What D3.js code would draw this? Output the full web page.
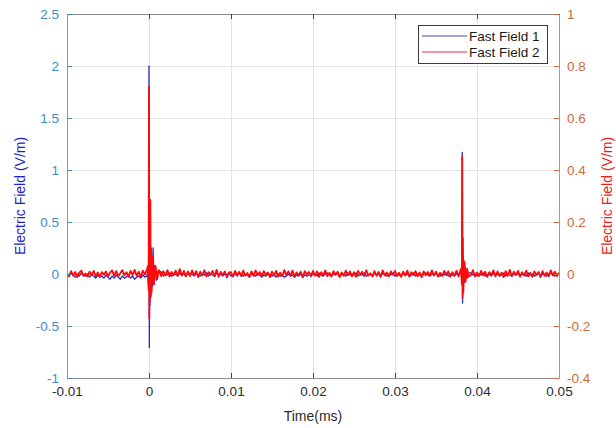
<!DOCTYPE html>
<html>
<head>
<meta charset="utf-8">
<script src="https://cdn.jsdelivr.net/npm/d3@7"></script>
<style>
  html, body { margin: 0; padding: 0; background: #fff; }
  svg { display: block; font-family: "Liberation Sans", Arial, Helvetica, sans-serif; }
</style>
</head>
<body>
<svg id="chart" width="616" height="428"></svg>
<script>
// Sampling grid for the quiet part of both records (ms)
const tStart = -0.01;
const tStep = 0.00025;

// Fast Field 2 baseline, right axis, in thousandths of V/m
const field2Base = [
  4,-9,11,-6,8,-12,5,13,-7,2,-10,9,-4,12,-8,6,-11,7,-3,10,
  -9,5,14,-6,11,-8,3,15,-5,7,-10,12,-4,16,-7,9,-11,13,-2,18,
  -6,10,-9,14,-3,17,-8,11,-5,15,-10,8,-4,13,-7,19,-6,12,-9,10,
  -8,14,-5,11,-12,9,-6,15,-10,7,-3,12,-9,16,-11,8,-4,10,-13,6,
  7,-10,12,-5,9,-8,13,-6,4,-11,10,-7,14,-4,8,-9,11,-3,6,-12,
  9,-6,12,-10,5,-8,15,-4,10,-7,13,-11,6,-5,9,-13,11,-2,8,-9,
  12,-6,10,-11,7,-4,14,-8,5,-10,11,-3,9,-12,6,-7,13,-5,10,-9,
  7,-11,12,-4,9,-8,15,-6,3,-10,11,-7,8,-12,14,-5,6,-9,10,-3,
  12,-8,5,-11,9,-6,13,-10,7,-4,11,-9,6,-12,10,-5,8,-7,14,-6,
  9,-10,5,-8,12,-4,10,-11,7,-6,13,-9,4,-12,11,-7,8,-5,15,-10,
  6,-8,12,-5,9,-11,7,-3,14,-9,10,-6,5,-12,11,-7,16,-8,9,-4,
  12,-10,7,-6,13,-9,5,-11,10,-4,8,-12,11,-7,6,-9,14,-5,9,-8,
  5
];

// Fast Field 1 baseline, left axis, in hundredths of V/m
const field1Base = [
  0,-2,1,-1,-3,0,-2,1,-1,-2,0,-3,-1,-2,-4,-1,-3,-2,-4,-1,
  -3,-5,-2,-4,-1,-3,-5,-2,-4,-3,-1,-4,-2,-5,-3,-2,-4,-1,-3,-2,
  0,-1,1,-2,0,-1,2,-2,0,-1,1,-2,-1,0,-2,1,-1,0,-2,1,
  -1,0,-2,1,-1,-2,0,-1,1,-2,0,-1,-2,1,-1,0,-2,0,-1,1,
  -2,-1,0,-2,1,-1,-2,0,-1,-3,0,-1,-2,0,-1,-3,-1,-2,0,-1,
  -2,-1,-3,0,-2,-1,-3,-2,0,-2,-1,-3,-1,-2,0,-3,-1,-2,-1,0,
  -1,0,-2,1,-1,-2,0,1,-1,-2,0,-1,1,-2,0,-1,-2,1,-1,0,
  -1,1,-2,0,-1,1,-2,-1,0,-2,1,-1,0,-2,1,-1,-2,0,-1,1,
  -2,0,-1,-2,1,-1,0,-2,-1,1,-2,0,-1,-2,0,1,-1,-2,0,-1,
  1,-1,-2,0,-1,1,-2,0,-1,-2,0,-1,1,-2,0,-1,-2,1,-1,0,
  -2,0,-1,1,-2,-1,0,-2,1,-1,0,-2,-1,1,-2,0,-1,-2,0,-1,
  1,-2,0,-1,-2,1,-1,0,-2,-1,1,-2,0,-1,-2,0,1,-1,-2,0,
  -1
];

// Pulse windows (ms) where the finely sampled pulse records replace the baseline
const pulseWindows = [[-0.0002, 0.0013], [0.038, 0.0391]];

// Fast Field 1 pulses (left axis, V/m)
const field1PulseT = [-0.00015,-0.00005,0,0.00004,0.00008,0.00012,0.00018,0.00025,0.00032,0.0004,0.0005,0.0006,0.0007,0.0009,0.0011,
                      0.03805,0.03815,0.0382,0.03824,0.03828,0.03834,0.0384,0.0385,0.0386,0.0388,0.039];
const field1PulseV = [0.03,-0.12,2.0,-0.71,0.35,-0.3,0.2,-0.22,0.15,-0.12,0.25,-0.1,0.08,-0.06,0.03,
                      0.02,-0.06,1.17,-0.28,0.15,-0.12,0.1,-0.08,0.06,-0.04,0.01];

// Fast Field 2 pulses (right axis, V/m)
const field2PulseT = [-0.00015,-0.00005,0,0.00004,0.00008,0.00012,0.00016,0.0002,0.00026,0.00032,0.0004,0.0005,0.0006,0.0008,0.001,0.0012,
                      0.03805,0.03815,0.0382,0.03824,0.03828,0.03834,0.0384,0.0385,0.0386,0.0388,0.039];
const field2PulseV = [0.03,-0.06,0.72,-0.17,0.08,-0.1,0.285,-0.06,0.1,-0.07,0.05,0.07,-0.04,0.03,-0.02,0.015,
                      0.02,-0.04,0.45,-0.09,0.14,-0.07,0.05,0.04,-0.03,0.02,-0.01];

// Axis ticks
const xTicks = [-0.01, 0, 0.01, 0.02, 0.03, 0.04, 0.05];
const leftTicks = [-1, -0.5, 0, 0.5, 1, 1.5, 2, 2.5];
const rightTicks = [-0.4, -0.2, 0, 0.2, 0.4, 0.6, 0.8, 1];
const seriesNames = ["Fast Field 1", "Fast Field 2"];

const margin = { left: 67, right: 57, top: 14, bottom: 50 };
const W = 616, H = 428;
const pw = W - margin.left - margin.right;
const ph = H - margin.top - margin.bottom;

const x = d3.scaleLinear().domain([-0.01, 0.05]).range([0, pw]);
const yL = d3.scaleLinear().domain([-1, 2.5]).range([ph, 0]);
const yR = d3.scaleLinear().domain([-0.4, 1]).range([ph, 0]);

function buildSeries(base, scaleDiv, pt, pv) {
  const pts = [];
  base.forEach((v, i) => {
    const t = tStart + i * tStep;
    if (pulseWindows.some(w => t >= w[0] && t <= w[1])) return;
    pts.push([t, v / scaleDiv]);
  });
  pt.forEach((t, i) => pts.push([t, pv[i]]));
  pts.sort((a, b) => a[0] - b[0]);
  return pts;
}

const s1 = buildSeries(field1Base, 100, field1PulseT, field1PulseV);
const s2 = buildSeries(field2Base, 1000, field2PulseT, field2PulseV);

const svg = d3.select("#chart");
const g = svg.append("g").attr("transform", `translate(${margin.left},${margin.top})`);

svg.append("defs").append("clipPath").attr("id", "plotclip")
  .append("rect").attr("width", pw).attr("height", ph);

// Grid
g.append("g").selectAll("line").data(xTicks.slice(1, -1)).join("line")
  .attr("x1", d => x(d)).attr("x2", d => x(d)).attr("y1", 0).attr("y2", ph)
  .attr("stroke", "#e3e3e3").attr("stroke-width", 1).attr("shape-rendering", "crispEdges");
g.append("g").selectAll("line").data(leftTicks.slice(1, -1)).join("line")
  .attr("y1", d => yL(d)).attr("y2", d => yL(d)).attr("x1", 0).attr("x2", pw)
  .attr("stroke", "#e3e3e3").attr("stroke-width", 1).attr("shape-rendering", "crispEdges");

// Traces
const plot = g.append("g").attr("clip-path", "url(#plotclip)");
plot.append("path").datum(s1)
  .attr("fill", "none").attr("stroke", "#2a2ac4").attr("stroke-width", 1.3)
  .attr("stroke-linejoin", "round")
  .attr("d", d3.line().x(d => x(d[0])).y(d => yL(d[1])));
plot.append("path").datum(s2)
  .attr("fill", "none").attr("stroke", "#ff0a0a").attr("stroke-width", 1.8)
  .attr("stroke-linejoin", "round")
  .attr("d", d3.line().x(d => x(d[0])).y(d => yR(d[1])));

// Axes (ticks point inward)
const fmt = d => (d === 0 ? "0" : String(d));
const tickFont = 13.5;

const xAxis = g.append("g").attr("transform", `translate(0,${ph})`)
  .call(d3.axisBottom(x).tickValues(xTicks).tickFormat(fmt).tickSizeInner(-5).tickSizeOuter(0).tickPadding(8));
xAxis.select(".domain").attr("stroke", "#8c8c8c");
xAxis.selectAll(".tick line").attr("stroke", "#444");
xAxis.selectAll("text").attr("fill", "#2b2b2b").attr("font-size", tickFont).attr("font-family", "Liberation Sans, Arial, sans-serif");

const xTop = g.append("g")
  .call(d3.axisTop(x).tickValues(xTicks).tickFormat("").tickSizeInner(-5).tickSizeOuter(0));
xTop.select(".domain").attr("stroke", "#8c8c8c");
xTop.selectAll(".tick line").attr("stroke", "#444");

const leftColor = "#3f8cc2";
const lAxis = g.append("g")
  .call(d3.axisLeft(yL).tickValues(leftTicks).tickFormat(fmt).tickSizeInner(-5).tickSizeOuter(0).tickPadding(8));
lAxis.select(".domain").attr("stroke", "#6fa0c6");
lAxis.selectAll(".tick line").attr("stroke", leftColor);
lAxis.selectAll("text").attr("fill", leftColor).attr("font-size", tickFont).attr("font-family", "Liberation Sans, Arial, sans-serif");

const rightColor = "#cc6a3e";
const rAxis = g.append("g").attr("transform", `translate(${pw},0)`)
  .call(d3.axisRight(yR).tickValues(rightTicks).tickFormat(fmt).tickSizeInner(-5).tickSizeOuter(0).tickPadding(8));
rAxis.select(".domain").attr("stroke", "#c9906f");
rAxis.selectAll(".tick line").attr("stroke", rightColor);
rAxis.selectAll("text").attr("fill", rightColor).attr("font-size", tickFont).attr("font-family", "Liberation Sans, Arial, sans-serif");

// Axis titles
svg.append("text").text("Time(ms)")
  .attr("x", margin.left + pw / 2).attr("y", 421)
  .attr("text-anchor", "middle").attr("font-size", 14).attr("fill", "#2b2b2b");
svg.append("text").text("Electric Field (V/m)")
  .attr("transform", `translate(25,${margin.top + ph / 2}) rotate(-90)`)
  .attr("text-anchor", "middle").attr("font-size", 14).attr("fill", "#1e1ec8");
svg.append("text").text("Electric Field (V/m)")
  .attr("transform", `translate(612,${margin.top + ph / 2}) rotate(-90)`)
  .attr("text-anchor", "middle").attr("font-size", 14).attr("fill", "#ee1c1c");

// Legend
const lg = svg.append("g").attr("transform", "translate(418,25)");
lg.append("rect").attr("width", 129).attr("height", 38)
  .attr("fill", "#fff").attr("stroke", "#3a3a3a").attr("stroke-width", 1).attr("shape-rendering", "crispEdges");
const legendColors = ["#4a4aa8", "#e0304a"];
seriesNames.forEach((name, i) => {
  const yy = 11 + i * 16;
  lg.append("line").attr("x1", 4).attr("x2", 49).attr("y1", yy).attr("y2", yy)
    .attr("stroke", legendColors[i]).attr("stroke-width", 1);
  lg.append("text").text(name).attr("x", 51).attr("y", yy + 4.5)
    .attr("font-size", 13.5).attr("fill", "#1a1a1a");
});
</script>
</body>
</html>
